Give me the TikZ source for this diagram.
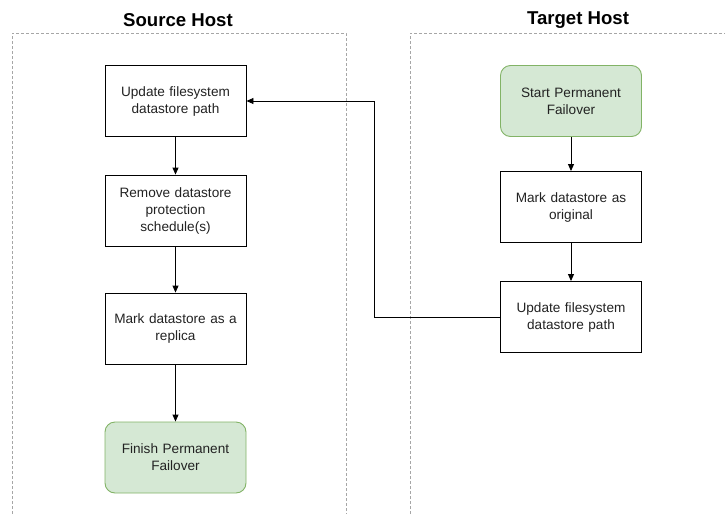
\documentclass[tikz,border=0pt]{standalone}
\usepackage{fontspec}
\setmainfont{Liberation Sans}
\usetikzlibrary{arrows.meta}
\definecolor{gfill}{HTML}{D5E8D4}
\definecolor{gdraw}{HTML}{82B366}
\definecolor{txt}{HTML}{222222}
\begin{document}
\begin{tikzpicture}[x=1pt,y=-1pt,
  box/.style={draw=black,line width=0.9pt,minimum width=141pt,minimum height=71pt,text width=135pt,align=center,font=\fontsize{13.6}{17}\selectfont,text=txt,inner sep=0pt},
  gbox/.style={box,draw=gdraw,fill=gfill,rounded corners=10pt},
  arr/.style={draw=black,line width=0.9pt,-{Triangle[length=7pt,width=6pt]}},
  lane/.style={draw=gray!70,dashed,dash pattern=on 3pt off 2pt,line width=0.7pt},
  title/.style={font=\fontsize{18.6}{20}\selectfont\bfseries}]
\useasboundingbox (0,0) rectangle (725,514);
% lanes
\draw[lane] (12,514) -- (12,33) -- (346,33) -- (346,514);
\draw[lane] (410,514) -- (410,33) -- (725,33);
\node[title] (st) at (178,20) {Source Host};
\node[title] (tt) at (578,20) {Target Host};
% source
\node[box] (s1) at (175.5,101) {Update filesystem\\datastore path};
\node[box] (s2) at (175.5,210.5) {Remove datastore\\protection\\schedule(s)};
\node[box] (s3) at (175.5,328.5) {Mark datastore as a\\replica};
\node[gbox] (s4) at (175.5,457.5) {Finish Permanent\\Failover};
% target
\node[gbox] (t1) at (571,101) {Start Permanent\\Failover};
\node[box] (t2) at (571,207) {Mark datastore as\\original};
\node[box] (t3) at (571,317) {Update filesystem\\datastore path};
% connectors
\draw[arr] (s1) -- (s2);
\draw[arr] (s2) -- (s3);
\draw[arr] (s3) -- (s4);
\draw[arr] (t1) -- (t2);
\draw[arr] (t2) -- (t3);
\coordinate (c1) at (374,317);
\coordinate (c2) at (374,101);
\draw[arr] (t3.west) -- (c1) -- (c2) -- (s1.east);
\end{tikzpicture}
\end{document}
